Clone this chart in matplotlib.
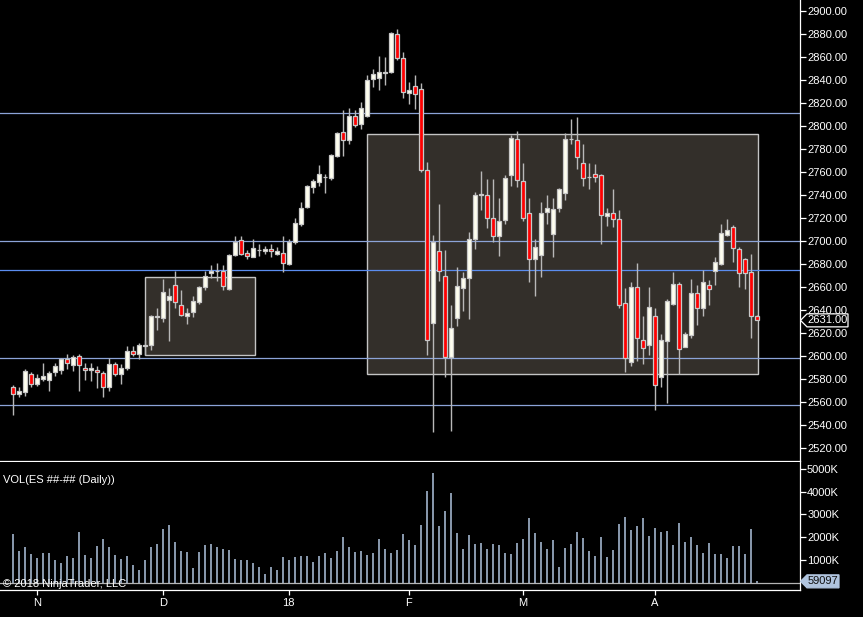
import matplotlib
matplotlib.use('Agg')
import matplotlib.pyplot as plt
import numpy as np
from matplotlib.patches import Rectangle, Polygon
from matplotlib.ticker import FormatStrFormatter
from matplotlib.transforms import IdentityTransform

plt.rcParams['font.family'] = ['Liberation Sans', 'DejaVu Sans']

# daily ES bars, late Oct 2017 .. Apr 2018
opens = [2573, 2567, 2569, 2584, 2576, 2580, 2579, 2586, 2588, 2597,
         2592, 2600, 2590, 2588, 2588, 2585, 2573, 2593, 2584, 2590,
         2604, 2602, 2609, 2610, 2634, 2633, 2649, 2662, 2644, 2635,
         2638, 2647, 2660, 2672, 2674, 2674, 2658, 2688, 2701, 2690,
         2686, 2692, 2691, 2693, 2689, 2690, 2680, 2699, 2715, 2730,
         2747, 2751, 2756, 2755, 2774, 2795, 2788, 2809, 2802, 2809,
         2841, 2842, 2846, 2847, 2880, 2859, 2829, 2835, 2832, 2762,
         2629, 2691, 2670, 2599, 2633, 2659, 2668, 2702, 2740, 2740,
         2720, 2704, 2718, 2757, 2789, 2752, 2724, 2684, 2688, 2725,
         2706, 2729, 2742, 2789, 2788, 2768, 2756, 2758, 2757, 2722,
         2724, 2719, 2646, 2595, 2660, 2614, 2610, 2635, 2582, 2613,
         2645, 2663, 2608, 2618, 2655, 2642, 2662, 2674, 2680, 2705,
         2712, 2693, 2684, 2673, 2635]
highs = [2575, 2573, 2589, 2586, 2584, 2594, 2587, 2594, 2598, 2602,
         2601, 2602, 2594, 2594, 2591, 2587, 2598, 2595, 2593, 2609,
         2609, 2611, 2614, 2636, 2642, 2667, 2659, 2674, 2657, 2642,
         2652, 2661, 2674, 2679, 2681, 2679, 2689, 2704, 2704, 2692,
         2702, 2697, 2696, 2697, 2695, 2704, 2702, 2720, 2734, 2749,
         2754, 2766, 2758, 2776, 2795, 2814, 2816, 2814, 2821, 2844,
         2850, 2861, 2860, 2882, 2884, 2864, 2838, 2844, 2837, 2769,
         2705, 2732, 2692, 2644, 2677, 2673, 2708, 2743, 2761, 2754,
         2754, 2737, 2757, 2792, 2796, 2768, 2737, 2702, 2734, 2740,
         2737, 2746, 2794, 2806, 2808, 2784, 2768, 2767, 2758, 2729,
         2745, 2727, 2659, 2664, 2681, 2635, 2660, 2642, 2619, 2650,
         2673, 2664, 2621, 2667, 2662, 2675, 2666, 2686, 2715, 2719,
         2714, 2695, 2685, 2689, 2636]
lows = [2549, 2564, 2565, 2573, 2574, 2578, 2570, 2583, 2584, 2589,
        2587, 2570, 2579, 2578, 2572, 2564, 2570, 2583, 2576, 2588,
        2600, 2597, 2601, 2605, 2623, 2630, 2613, 2642, 2635, 2628,
        2634, 2645, 2657, 2668, 2665, 2657, 2657, 2687, 2688, 2684,
        2686, 2687, 2689, 2686, 2688, 2673, 2679, 2697, 2713, 2729,
        2742, 2748, 2742, 2753, 2773, 2774, 2784, 2799, 2797, 2808,
        2834, 2831, 2836, 2846, 2857, 2824, 2819, 2815, 2760, 2601,
        2534, 2665, 2582, 2535, 2626, 2639, 2632, 2693, 2727, 2711,
        2699, 2687, 2715, 2748, 2747, 2717, 2664, 2652, 2669, 2715,
        2686, 2725, 2736, 2784, 2763, 2748, 2745, 2751, 2697, 2713,
        2712, 2642, 2586, 2591, 2596, 2593, 2601, 2553, 2573, 2559,
        2644, 2584, 2608, 2616, 2627, 2635, 2644, 2662, 2679, 2704,
        2682, 2660, 2658, 2616, 2631]
closes = [2567, 2570, 2587, 2576, 2581, 2583, 2585, 2591, 2597, 2594,
          2599, 2592, 2588, 2590, 2586, 2573, 2593, 2584, 2590, 2604,
          2602, 2610, 2610, 2635, 2635, 2656, 2652, 2647, 2636, 2637,
          2648, 2660, 2670, 2674, 2674, 2661, 2688, 2699, 2689, 2687,
          2694, 2692, 2693, 2691, 2691, 2681, 2699, 2716, 2729, 2748,
          2752, 2758, 2756, 2775, 2794, 2788, 2809, 2801, 2816, 2840,
          2845, 2847, 2847, 2881, 2859, 2830, 2831, 2828, 2762, 2614,
          2699, 2674, 2599, 2624, 2661, 2668, 2702, 2740, 2741, 2720,
          2704, 2717, 2755, 2790, 2753, 2720, 2684, 2695, 2724, 2729,
          2728, 2745, 2789, 2789, 2773, 2755, 2756, 2756, 2723, 2724,
          2719, 2644, 2598, 2660, 2616, 2607, 2643, 2575, 2614, 2648,
          2663, 2606, 2619, 2655, 2642, 2664, 2658, 2682, 2707, 2710,
          2694, 2672, 2672, 2635, 2631]
volume_k = [2139, 1392, 1568, 1260, 1084, 1304, 1304, 996, 864, 1172,
            1084, 2227, 1216, 1084, 1612, 1919, 1568, 1216, 1040, 1172,
            776, 557, 996, 1568, 1699, 2359, 2534, 1787, 1392, 1348,
            645, 1348, 1655, 1699, 1568, 1480, 1436, 1040, 996, 996,
            864, 689, 381, 689, 557, 1128, 996, 1128, 1172, 1172,
            908, 1172, 1304, 1084, 1392, 2007, 1568, 1348, 1392, 1216,
            1304, 1919, 1480, 1304, 1436, 2139, 1875, 1655, 2534, 4029,
            4820, 2490, 3150, 3941, 2183, 1480, 2095, 1699, 1743, 1480,
            1699, 1655, 1304, 1260, 1743, 1919, 2842, 2183, 1787, 1480,
            1875, 689, 1524, 1699, 2227, 1963, 1392, 1172, 2007, 1128,
            1436, 2578, 2886, 2315, 2490, 2842, 2051, 2403, 2227, 2271,
            1655, 2622, 1787, 2007, 1655, 1304, 1743, 1260, 1260, 1084,
            1612, 1612, 1260, 2359, 59.097]

month_ticks = [4, 25, 46, 66, 85, 107]
month_labels = ['N', 'D', '18', 'F', 'M', 'A']

# horizontal levels and the two range boxes (bar from, bar to, top, bottom)
levels = [2811, 2700, 2598, 2557]
blue_level = 2675
zones = [(22.1, 40.3, 2668.5, 2600.5), (59.1, 124.2, 2793.5, 2584)]

W, H = 863, 617
fig = plt.figure(figsize=(W / 100, H / 100), dpi=100, facecolor='black')
ax = fig.add_axes([0, 1 - 461 / H, 800 / W, 461 / H], facecolor='black')
axv = fig.add_axes([0, 27 / H, 800 / W, 128 / H], facecolor='black')

x = np.arange(len(closes))
o = np.array(opens, dtype=float)
c = np.array(closes, dtype=float)
up = c >= o

for x0, x1, top, bot in zones:
    ax.add_patch(Rectangle((x0, bot), x1 - x0, top - bot, facecolor='#332f2a',
                           edgecolor='#c4c4c4', lw=1.0, zorder=1))
for lv in levels:
    ax.axhline(lv, color='#8ca4d8', lw=0.9, zorder=2)
ax.axhline(blue_level, color='#5b8def', lw=0.9, zorder=2)

ax.vlines(x, lows, highs, color='#b8b8b8', lw=1.0, zorder=3)
ax.bar(x, np.abs(c - o), bottom=np.minimum(o, c), width=0.62,
       color=np.where(up, '#fffff0', '#ff0000'), edgecolor='#c8c8c8',
       lw=0.9, zorder=4)

ax.set_xlim(-2.12, 131.22)
ax.set_ylim(2508.7, 2909.6)
ax.set_xticks([])
ax.yaxis.tick_right()
ax.set_yticks(np.arange(2520, 2901, 20))
ax.yaxis.set_major_formatter(FormatStrFormatter('%.2f'))
ax.tick_params(axis='y', colors='white', length=4.3, width=0.9, labelsize=8, pad=0.8)
for s in ['top', 'left']:
    ax.spines[s].set_visible(False)
for s in ['right', 'bottom']:
    ax.spines[s].set_color('white')
    ax.spines[s].set_linewidth(0.9)

# volume panel
axv.axhline(0, color='#b4b4b4', lw=0.9, zorder=1)
axv.vlines(x, 0, volume_k, color='#b0c4de', lw=1.1, zorder=2)
axv.set_xlim(-2.12, 131.22)
axv.set_ylim(-321, 5305)
axv.yaxis.tick_right()
axv.set_yticks([1000, 2000, 3000, 4000, 5000])
axv.set_yticklabels(['1000K', '2000K', '3000K', '4000K', '5000K'])
axv.tick_params(axis='y', colors='white', length=4.3, width=0.9, labelsize=8, pad=0.8)
axv.set_xticks(month_ticks)
axv.set_xticklabels(month_labels)
axv.tick_params(axis='x', colors='white', length=3.6, width=0.9, labelsize=8, pad=2)
for s in ['top', 'left']:
    axv.spines[s].set_visible(False)
for s in ['right', 'bottom']:
    axv.spines[s].set_color('white')
    axv.spines[s].set_linewidth(0.9)

axv.text(3 / 800, 0.86, 'VOL(ES ##-## (Daily))', transform=axv.transAxes,
         color='white', fontsize=8, va='center', ha='left')
axv.text(3 / 800, 0.045, '\u00a9 2018 NinjaTrader, LLC', transform=axv.transAxes,
         color='white', fontsize=8, va='center', ha='left', zorder=5)


def value_tag(axis, value, text, face, edge, tcolor, width):
    px, py = axis.get_yaxis_transform().transform((1.0, value))
    h = 6.5
    pts = [(px + 0.5, py), (px + 7, py + h), (px + width, py + h),
           (px + width, py - h), (px + 7, py - h)]
    fig.add_artist(Polygon(pts, closed=True, facecolor=face, edgecolor=edge,
                           lw=0.9, transform=IdentityTransform(), zorder=10))
    fig.text((px + (7 + width) / 2) / W, py / H, text, color=tcolor, fontsize=8,
             ha='center', va='center', zorder=11)


value_tag(ax, closes[-1], f'{closes[-1]:.2f}', 'black', 'white', 'white', 48)
value_tag(axv, volume_k[-1], f'{volume_k[-1] * 1000:.0f}', '#b0c4de', '#b0c4de', '#111111', 39)

fig.savefig('out.png', dpi=100, facecolor='black')
